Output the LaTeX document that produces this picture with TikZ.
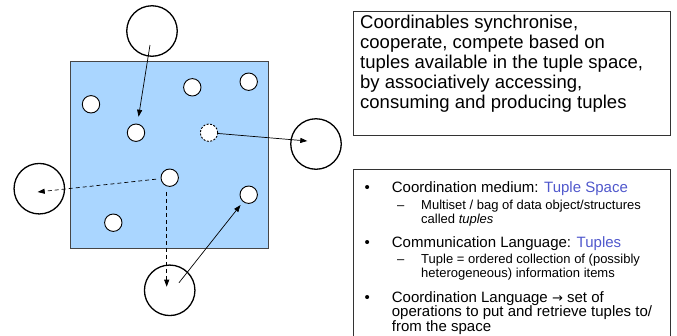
\documentclass[tikz,border=0pt]{standalone}
\usepackage{fontspec}
\setmainfont{Liberation Sans}
\newfontfamily\arrowfont{DejaVu Sans}
\usepackage{xcolor}
\usetikzlibrary{arrows.meta}

\definecolor{spaceblue}{RGB}{170,214,255}
\definecolor{tsblue}{RGB}{80,88,204}
\definecolor{spaceedge}{RGB}{70,70,70}

\tikzset{
  space/.style={draw=spaceedge, line width=0.8pt, fill=spaceblue, rectangle, inner sep=0pt},
  tuple/.style={draw=black, line width=0.9pt, fill=white, circle, minimum size=17.4pt, inner sep=0pt},
  coordinable/.style={draw=black, line width=1.3pt, circle, minimum size=50.5pt, inner sep=0pt},
  tuplearrow/.style={-{Triangle[length=7pt,width=5pt]}, line width=0.7pt},
  infobox/.style={draw=black!80, line width=0.8pt, rectangle, inner sep=0pt},
  bigtext/.style={anchor=base west, inner sep=0pt, align=left, font=\fontsize{18.5}{20}\selectfont},
  itemtext/.style={anchor=base west, inner sep=0pt, align=left, font=\fontsize{15}{14.7}\selectfont},
  subtext/.style={anchor=base west, inner sep=0pt, align=left, font=\fontsize{13}{13.5}\selectfont}
}

\begin{document}
\begin{tikzpicture}[x=1pt,y=-1pt]
\useasboundingbox (0,0) rectangle (677,335);

% tuple space
\node[space, minimum width=198pt, minimum height=186.6pt] (space) at (169.7,155) {};
\node[tuple] (t1) at (91,104.3) {};
\node[tuple] (t2) at (192.3,87.3) {};
\node[tuple] (t3) at (248.7,81.7) {};
\node[tuple] (t4) at (136,132.7) {};
\node[tuple, dash pattern=on 2pt off 1.5pt] (t5) at (209,132.7) {};
\node[tuple] (t6) at (169.7,177.7) {};
\node[tuple] (t7) at (248.7,194.7) {};
\node[tuple] (t8) at (113.3,222.7) {};

% coordinables
\node[coordinable] (coordN) at (152,31) {};
\node[coordinable] (coordE) at (316,144) {};
\node[coordinable] (coordW) at (39.3,188.7) {};
\node[coordinable] (coordS) at (169.7,290.3) {};
\coordinate (inN) at (150,45);
\coordinate (inE) at (307.3,141);
\coordinate (inW) at (37.7,192);
\coordinate (inS) at (166.7,286.7);
\coordinate (outS) at (179,282.7);

% operations
\draw[tuplearrow, shorten >=7pt] (inN) -- (t4);
\draw[tuplearrow] (t5) -- (inE);
\draw[tuplearrow, dashed, dash pattern=on 4pt off 3pt, shorten <=4.5pt] (t6) -- (inW);
\draw[tuplearrow, dashed, dash pattern=on 4pt off 3pt, shorten <=5pt] (t6.south -| inS) -- (inS);
\draw[tuplearrow, shorten >=4pt] (outS) -- (t7);

% description (multi-line nodes sit on their last baseline)
\node[infobox, minimum width=316.7pt, minimum height=124pt] (desc) at (511.7,73) {};
\node[bigtext] (desctext) at (360,108) {Coordinables synchronise,\\cooperate, compete based on\\tuples available in the tuple space,\\by associatively accessing,\\consuming and producing tuples};

% bullet list
\node[infobox, minimum width=316.7pt, minimum height=176pt] (list) at (511.7,257.3) {};
\node[itemtext] (b1) at (364.5,192) {\textbullet};
\node[itemtext] (i1) at (391.7,192) {Coordination medium: \textcolor{tsblue}{Tuple Space}};
\node[subtext] (d1) at (397,209.5) {--};
\node[subtext] (s1) at (421,223) {Multiset / bag of data object/structures\\called \textit{tuples}};
\node[itemtext] (b2) at (364.5,247) {\textbullet};
\node[itemtext] (i2) at (391.7,247) {Communication Language: \textcolor{tsblue}{Tuples}};
\node[subtext] (d2) at (397,263.5) {--};
\node[subtext] (s2) at (421,277) {Tuple = ordered collection of (possibly\\heterogeneous) information items};
\node[itemtext] (b3) at (364.5,302) {\textbullet};
\node[itemtext] (i3) at (391.7,331.4) {Coordination Language {\arrowfont\fontsize{13}{14.7}\selectfont →} set of\\operations to put and retrieve tuples to/\\from the space};
\end{tikzpicture}
\end{document}
